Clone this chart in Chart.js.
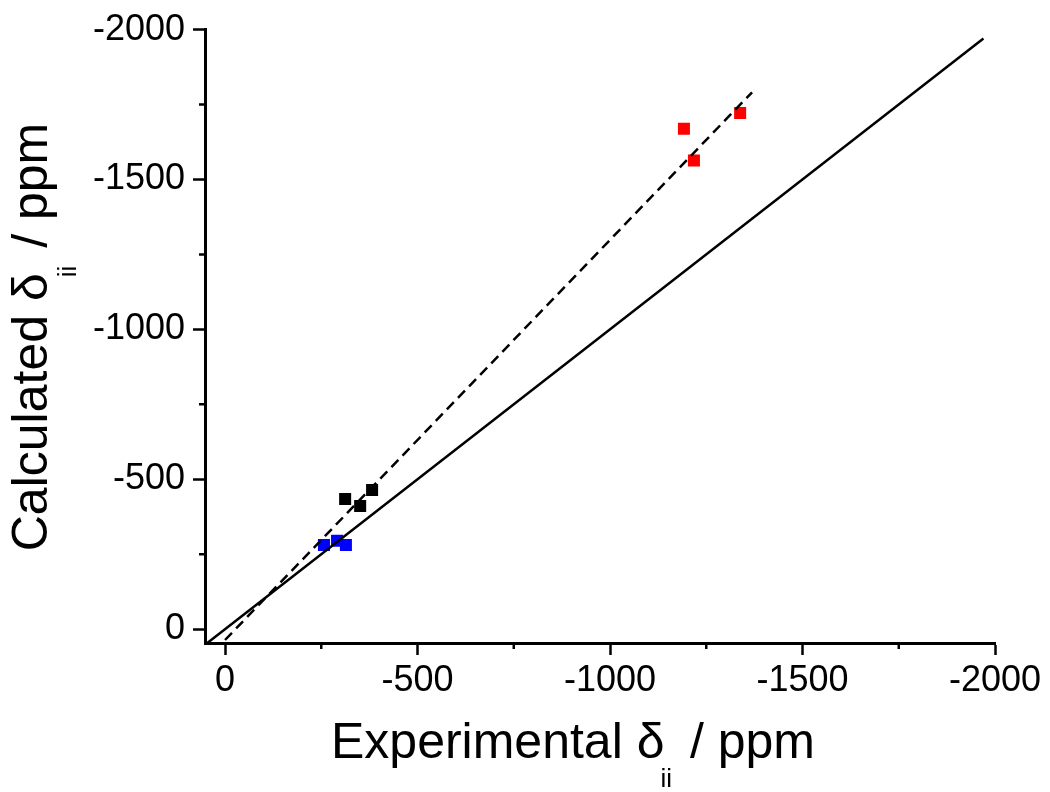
<!DOCTYPE html>
<html>
<head>
<meta charset="utf-8">
<script src="https://cdn.jsdelivr.net/npm/chart.js@4"></script>
<style>
  html, body { margin: 0; padding: 0; background: #fff; }
  #wrap { width: 1050px; height: 792px; }
</style>
</head>
<body>
<div id="wrap"><canvas id="shiftChart" width="1050" height="792"></canvas></div>
<script>
// Data (ppm)
const blackX = [-312, -351, -382];
const blackY = [-434, -411, -464];
const blueX = [-257, -291, -314];
const blueY = [-281, -295, -281];
const redX = [-1192, -1218, -1338];
const redY = [-1669, -1563, -1722];

// y = x reference line and dashed fit line end points
const idealX = [46, -1970];
const idealY = [46, -1970];
const fitX = [0, -1369];
const fitY = [36, -1791];

// Axis ticks
const majorTicks = [0, -500, -1000, -1500, -2000];
const minorTicks = [-250, -750, -1250, -1750];

const FONT = '"Liberation Sans", Arial, sans-serif';

function pts(xs, ys) {
    return xs.map((x, i) => ({ x: x, y: ys[i] }));
}

// Minor tick marks, placed through the scales
const minorTickPlugin = {
    id: 'minorTicks',
    afterDraw(chart) {
        const c = chart.ctx;
        const xs = chart.scales.x, ys = chart.scales.y;
        c.save();
        c.strokeStyle = '#000';
        c.lineWidth = 2.5;
        c.beginPath();
        minorTicks.forEach(v => {
            const px = xs.getPixelForValue(v);
            c.moveTo(px, xs.top);
            c.lineTo(px, xs.top + 6);
            const py = ys.getPixelForValue(v);
            c.moveTo(ys.right, py);
            c.lineTo(ys.right - 6, py);
        });
        c.stroke();
        c.restore();
    }
};

// Axis titles with the ii subscript
function drawTitle(c, x, y, angle, head, sub, tail) {
    c.save();
    c.translate(x, y);
    c.rotate(angle);
    c.fillStyle = '#000';
    c.textBaseline = 'alphabetic';
    c.font = '50px ' + FONT;
    const w1 = c.measureText(head).width;
    const w3 = c.measureText(tail).width;
    c.font = '26px ' + FONT;
    const w2 = c.measureText(sub).width;
    let sx = -(w1 + w2 + w3) / 2;
    c.font = '50px ' + FONT;
    c.fillText(head, sx, 0);
    c.font = '26px ' + FONT;
    c.fillText(sub, sx + w1 - 4, 29);
    c.font = '50px ' + FONT;
    c.fillText(tail, sx + w1 + w2, 0);
    c.restore();
}

const titlePlugin = {
    id: 'axisTitles',
    afterDraw(chart) {
        const c = chart.ctx;
        drawTitle(c, 573, 758, 0, 'Experimental \u03b4', 'ii', ' / ppm');
        drawTitle(c, 47, 337, -Math.PI / 2, 'Calculated \u03b4', 'ii', ' / ppm');
    }
};

function axis(min, max) {
    return {
        type: 'linear',
        min: min,
        max: max,
        reverse: true,
        afterBuildTicks: s => { s.ticks = majorTicks.map(v => ({ value: v })); },
        border: { display: true, color: '#000', width: 3 },
        grid: {
            drawOnChartArea: false,
            drawTicks: true,
            tickLength: 12,
            tickWidth: 2.5,
            tickColor: '#000'
        },
        ticks: {
            color: '#000',
            font: { family: FONT, size: 36 },
            padding: 4,
            maxRotation: 0,
            autoSkip: false,
            callback: v => String(v)
        }
    };
}

const xAxis = axis(-2000, 52);
xAxis.afterFit = s => { s.height = 149; };
const yAxis = axis(-2000, 46);
yAxis.afterFit = s => { s.width = 205; };
yAxis.ticks.padding = 8;

new Chart(document.getElementById('shiftChart'), {
    type: 'scatter',
    data: {
        datasets: [
            {
                label: 'y = x',
                data: pts(idealX, idealY),
                showLine: true,
                borderColor: '#000',
                borderWidth: 2.5,
                pointRadius: 0,
                order: 0
            },
            {
                label: 'fit',
                data: pts(fitX, fitY),
                showLine: true,
                borderColor: '#000',
                borderWidth: 2.5,
                borderDash: [10, 6],
                pointRadius: 0,
                order: 0
            },
            {
                label: 'black',
                data: pts(blackX, blackY),
                pointStyle: 'rect',
                pointRadius: 8.5,
                backgroundColor: '#000',
                borderWidth: 0,
                order: 1
            },
            {
                label: 'blue',
                data: pts(blueX, blueY),
                pointStyle: 'rect',
                pointRadius: 8.5,
                backgroundColor: '#0000ff',
                borderWidth: 0,
                order: 1
            },
            {
                label: 'red',
                data: pts(redX, redY),
                pointStyle: 'rect',
                pointRadius: 8.5,
                backgroundColor: '#ff0000',
                borderWidth: 0,
                order: 1
            }
        ]
    },
    options: {
        responsive: false,
        animation: false,
        layout: { padding: { top: 25, right: 55, left: 0, bottom: 0 } },
        scales: { x: xAxis, y: yAxis },
        plugins: {
            legend: { display: false },
            tooltip: { enabled: false }
        }
    },
    plugins: [minorTickPlugin, titlePlugin]
});
</script>
</body>
</html>
